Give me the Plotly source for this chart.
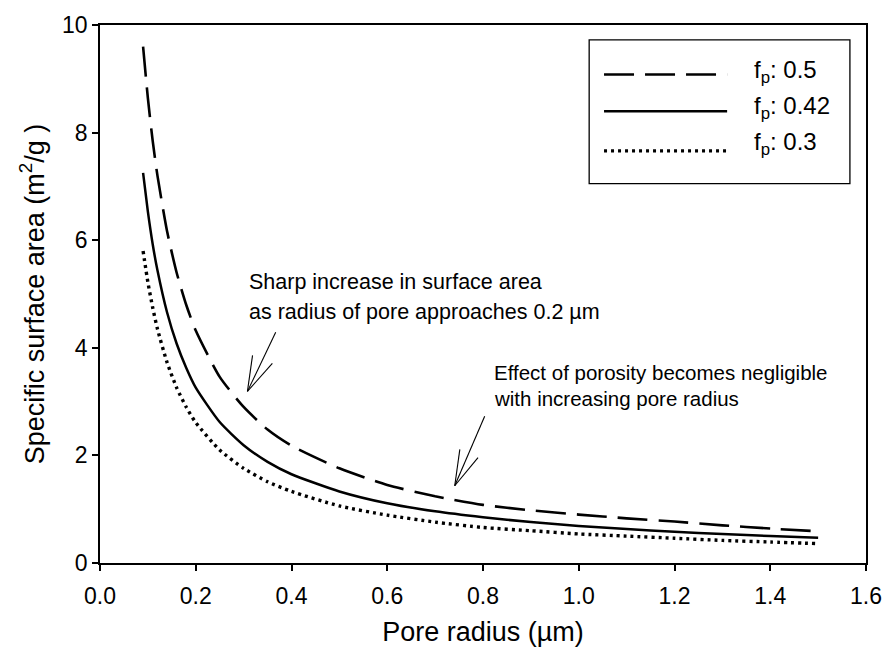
import plotly.graph_objects as go

# ---- data ----
radius = [0.09, 0.10, 0.11, 0.12, 0.14, 0.16, 0.18, 0.20, 0.25, 0.30, 0.35, 0.40,
          0.50, 0.60, 0.70, 0.80, 0.90, 1.00, 1.10, 1.20, 1.30, 1.40, 1.50]
ssa_fp050 = [9.60, 8.64, 7.85, 7.20, 6.17, 5.40, 4.80, 4.32, 3.46, 2.90, 2.48, 2.18,
             1.76, 1.45, 1.24, 1.08, 0.98, 0.90, 0.83, 0.77, 0.70, 0.64, 0.59]
ssa_fp042 = [7.25, 6.53, 5.93, 5.44, 4.66, 4.08, 3.63, 3.26, 2.62, 2.19, 1.88, 1.65,
             1.33, 1.11, 0.96, 0.85, 0.76, 0.69, 0.63, 0.58, 0.54, 0.50, 0.47]
ssa_fp030 = [5.80, 5.22, 4.75, 4.35, 3.73, 3.26, 2.90, 2.61, 2.10, 1.76, 1.51, 1.33,
             1.06, 0.89, 0.76, 0.66, 0.60, 0.54, 0.50, 0.46, 0.42, 0.39, 0.36]
series_labels = ["f<sub>p</sub>: 0.5", "f<sub>p</sub>: 0.42", "f<sub>p</sub>: 0.3"]
x_ticks = [0.0, 0.2, 0.4, 0.6, 0.8, 1.0, 1.2, 1.4, 1.6]
y_ticks = [0, 2, 4, 6, 8, 10]

# annotation arrows (data coords): tail, tip, barb ends
arrow1 = dict(tail=(0.367, 4.29), tip=(0.308, 3.19), b1=(0.3186, 3.86), b2=(0.360, 3.71))
arrow2 = dict(tail=(0.8035, 2.726), tip=(0.741, 1.436), b1=(0.7516, 2.112), b2=(0.7896, 1.958))

FONT = "Liberation Sans, Arial, sans-serif"
styles = [dict(dash="30px,11px", width=2.6),
          dict(dash="solid", width=2.5),
          dict(dash="3px,4px", width=3.4)]

fig = go.Figure()
for ys, lab, st in zip([ssa_fp050, ssa_fp042, ssa_fp030], series_labels, styles):
    fig.add_trace(go.Scatter(x=radius, y=ys, mode="lines", name=lab,
                             line=dict(color="black", shape="spline", smoothing=0.6, **st),
                             showlegend=False))

shapes = []
for a in (arrow1, arrow2):
    for end in ("tail", "b1", "b2"):
        shapes.append(dict(type="line", xref="x", yref="y",
                           x0=a["tip"][0], y0=a["tip"][1], x1=a[end][0], y1=a[end][1],
                           line=dict(color="black", width=1.1)))

# manual legend (paper coords)
shapes.append(dict(type="rect", xref="paper", yref="paper", x0=0.6386, x1=0.979,
                   y0=0.7053, y1=0.9724, line=dict(color="black", width=1.3),
                   fillcolor="white", layer="above"))
leg_y_line = [0.9079, 0.8398, 0.7661]
leg_y_text = [0.914, 0.847, 0.779]
for yl, st in zip(leg_y_line, styles):
    shapes.append(dict(type="line", xref="paper", yref="paper", x0=0.658, x1=0.8187,
                       y0=yl, y1=yl, line=dict(color="black", **st), layer="above"))

annotations = []
for yt, lab in zip(leg_y_text, series_labels):
    annotations.append(dict(xref="paper", yref="paper", x=0.851, y=yt, text=lab,
                            showarrow=False, xanchor="left", yanchor="middle",
                            font=dict(family=FONT, size=24, color="black")))

ann_font = dict(family=FONT, size=21.5, color="black")
ann_font2 = dict(family=FONT, size=20.5, color="black")
annotations += [
    dict(x=0.307, y=5.22, text="Sharp increase in surface area", showarrow=False,
         xanchor="left", yanchor="middle", font=ann_font),
    dict(x=0.307, y=4.66, text="as radius of pore approaches 0.2 µm", showarrow=False,
         xanchor="left", yanchor="middle", font=ann_font),
    dict(x=0.819, y=3.54, text="Effect of porosity becomes negligible", showarrow=False,
         xanchor="left", yanchor="middle", font=ann_font2),
    dict(x=0.819, y=3.06, text="with increasing pore radius", showarrow=False,
         xanchor="left", yanchor="middle", font=ann_font2),
]

fig.update_layout(
    width=894, height=656,
    margin=dict(l=100, r=22, t=20, b=93),
    paper_bgcolor="white", plot_bgcolor="white",
    font=dict(family=FONT, color="black"),
    shapes=shapes, annotations=annotations,
    xaxis=dict(range=[0, 1.6], tickvals=x_ticks, tickformat=".1f",
               showline=True, mirror=True, linecolor="black", linewidth=1.5,
               ticks="outside", ticklen=6, tickwidth=1.5, tickcolor="black",
               ticklabelstandoff=6,
               showgrid=False, zeroline=False,
               tickfont=dict(family=FONT, size=23, color="black"),
               title=dict(text="Pore radius (µm)", standoff=14,
                          font=dict(family=FONT, size=27, color="black"))),
    yaxis=dict(range=[0, 10], tickvals=y_ticks,
               showline=True, mirror=True, linecolor="black", linewidth=1.5,
               ticks="outside", ticklen=6, tickwidth=1.5, tickcolor="black",
               showgrid=False, zeroline=False,
               tickfont=dict(family=FONT, size=23, color="black"),
               title=dict(text="Specific surface area (m<sup>2</sup>/g )", standoff=10,
                          font=dict(family=FONT, size=27, color="black"))),
)

fig.write_html("out.html")
